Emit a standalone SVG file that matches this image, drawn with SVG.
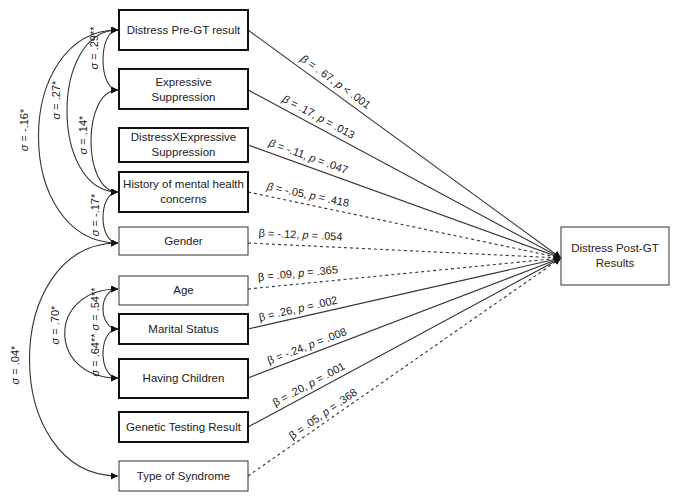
<svg xmlns="http://www.w3.org/2000/svg" width="680" height="502" viewBox="0 0 680 502">
<style>
text{font-family:"Liberation Sans",Arial,sans-serif;fill:#222}
.n{font-size:11.5px;text-anchor:middle}
.l{font-size:11px;text-anchor:middle}
.b{fill:#fff;stroke:#111;stroke-width:2}
.t{fill:#fff;stroke:#333;stroke-width:1}
.e{fill:none;stroke:#333;stroke-width:1.1;marker-end:url(#a)}
.d{stroke-dasharray:3,3}
.c{fill:none;stroke:#333;stroke-width:1.1;marker-start:url(#s);marker-end:url(#a)}
</style>
<defs>
<marker id="a" viewBox="0 0 10 10" refX="10" refY="5" markerWidth="7" markerHeight="7" markerUnits="userSpaceOnUse" orient="auto"><path d="M0,0L10,5L0,10z" fill="#111"/></marker>
<marker id="s" viewBox="0 0 10 10" refX="0" refY="5" markerWidth="7" markerHeight="7" markerUnits="userSpaceOnUse" orient="auto"><path d="M10,0L0,5L10,10z" fill="#111"/></marker>
</defs>
<g id="connectors">
<path class="e" d="M248,30L561,258"/>
<path class="e" d="M248,90L561,258"/>
<path class="e" d="M248,145L561,258"/>
<path class="e d" d="M248,192L561,258"/>
<path class="e d" d="M248,243L561,258"/>
<path class="e d" d="M248,289L561,258"/>
<path class="e" d="M248,329L561,258"/>
<path class="e" d="M248,378L561,258"/>
<path class="e" d="M248,427L561,258"/>
<path class="e d" d="M248,476L561,258"/>
<path class="c" d="M118,90C98,90 98,30 118,30"/>
<path class="c" d="M118,192C50,192 50,30 118,30"/>
<path class="c" d="M118,243C12,243 12,30 118,30"/>
<path class="c" d="M118,192C82,192 82,90 118,90"/>
<path class="c" d="M118,243C98,243 98,192 118,192"/>
<path class="c" d="M118,476C0,476 0,243 118,243"/>
<path class="c" d="M118,329C98,329 98,289 118,289"/>
<path class="c" d="M118,378C98,378 98,329 118,329"/>
<path class="c" d="M118,378C47,378 47,289 118,289"/>
</g>
<g id="labels">
<text class="l" transform="translate(330,89.7) rotate(36.07)" y="-6"><tspan font-style="italic">β</tspan> = . 67, <tspan font-style="italic">p</tspan> &lt; .001</text>
<text class="l" transform="translate(314,125.4) rotate(28.2)" y="-6"><tspan font-style="italic">β</tspan> = .17, <tspan font-style="italic">p</tspan> = .013</text>
<text class="l" transform="translate(305,165.6) rotate(19.85)" y="-6"><tspan font-style="italic">β</tspan> = -.11, <tspan font-style="italic">p</tspan> = .047</text>
<text class="l" transform="translate(306,204.2) rotate(11.9)" y="-6"><tspan font-style="italic">β</tspan> = -.05, <tspan font-style="italic">p</tspan> = .418</text>
<text class="l" transform="translate(300,245.5) rotate(2.7)" y="-7">β = -.12, <tspan font-style="italic">p</tspan> = .054</text>
<text class="l" transform="translate(299,284) rotate(-5.65)" y="-7">β = .09, <tspan font-style="italic">p</tspan> = .365</text>
<text class="l" transform="translate(300,317.2) rotate(-12.8)" y="-5">β = .26, <tspan font-style="italic">p</tspan> = .002</text>
<text class="l" transform="translate(310,354.2) rotate(-21)" y="-5">β = -.24, <tspan font-style="italic">p</tspan> = .008</text>
<text class="l" transform="translate(313,392) rotate(-28.4)" y="-5">β = .20, <tspan font-style="italic">p</tspan> = .001</text>
<text class="l" transform="translate(328,421) rotate(-34.9)" y="-5">β = .05, <tspan font-style="italic">p</tspan> = .368</text>
<text class="l" font-size="10" transform="translate(98,48) rotate(-90)"><tspan font-style="italic">σ</tspan> = .29**</text>
<text class="l" font-size="10" transform="translate(60,100) rotate(-90)"><tspan font-style="italic">σ</tspan> = .27*</text>
<text class="l" font-size="10" transform="translate(28,130) rotate(-90)"><tspan font-style="italic">σ</tspan> = -.16*</text>
<text class="l" font-size="10" transform="translate(87,135) rotate(-90)"><tspan font-style="italic">σ</tspan> = .14*</text>
<text class="l" font-size="10" transform="translate(99,215) rotate(-90)"><tspan font-style="italic">σ</tspan> = -.17*</text>
<text class="l" font-size="10" transform="translate(19,365) rotate(-90)"><tspan font-style="italic">σ</tspan> = .04*</text>
<text class="l" font-size="9" transform="translate(99,309) rotate(-90)"><tspan font-style="italic">σ</tspan> = .54**</text>
<text class="l" font-size="9" transform="translate(99,355) rotate(-90)"><tspan font-style="italic">σ</tspan> = .64**</text>
<text class="l" font-size="10" transform="translate(59,325) rotate(-90)"><tspan font-style="italic">σ</tspan> = .70*</text>
</g>
<g id="n1"><rect class="b" x="119" y="10" width="129" height="40"/><text class="n" x="183.5" y="34">Distress Pre-GT result</text></g>
<g id="n2"><rect class="b" x="119" y="69" width="129" height="40"/><text class="n" x="183.5" y="86">Expressive</text><text class="n" x="183.5" y="101">Suppression</text></g>
<g id="n3"><rect class="b" x="119" y="128" width="129" height="34"/><text class="n" x="183.5" y="141">DistressXExpressive</text><text class="n" x="183.5" y="156">Suppression</text></g>
<g id="n4"><rect class="b" x="119" y="172" width="129" height="40"/><text class="n" x="183.5" y="188">History of mental health</text><text class="n" x="183.5" y="203">concerns</text></g>
<g id="n5"><rect class="t" x="119" y="227" width="129" height="28"/><text class="n" x="183.5" y="245">Gender</text></g>
<g id="n6"><rect class="t" x="119" y="276" width="129" height="29"/><text class="n" x="183.5" y="294">Age</text></g>
<g id="n7"><rect class="b" x="119" y="314" width="129" height="30"/><text class="n" x="183.5" y="333">Marital Status</text></g>
<g id="n8"><rect class="b" x="119" y="359" width="129" height="39"/><text class="n" x="183.5" y="382">Having Children</text></g>
<g id="n9"><rect class="b" x="119" y="412" width="129" height="30"/><text class="n" x="183.5" y="431">Genetic Testing Result</text></g>
<g id="n10"><rect class="t" x="119" y="461" width="129" height="30"/><text class="n" x="183.5" y="480">Type of Syndrome</text></g>
<g id="n11"><rect class="t" x="561" y="227" width="108" height="58"/><text class="n" x="615" y="252">Distress Post-GT</text><text class="n" x="615" y="267">Results</text></g>
</svg>
